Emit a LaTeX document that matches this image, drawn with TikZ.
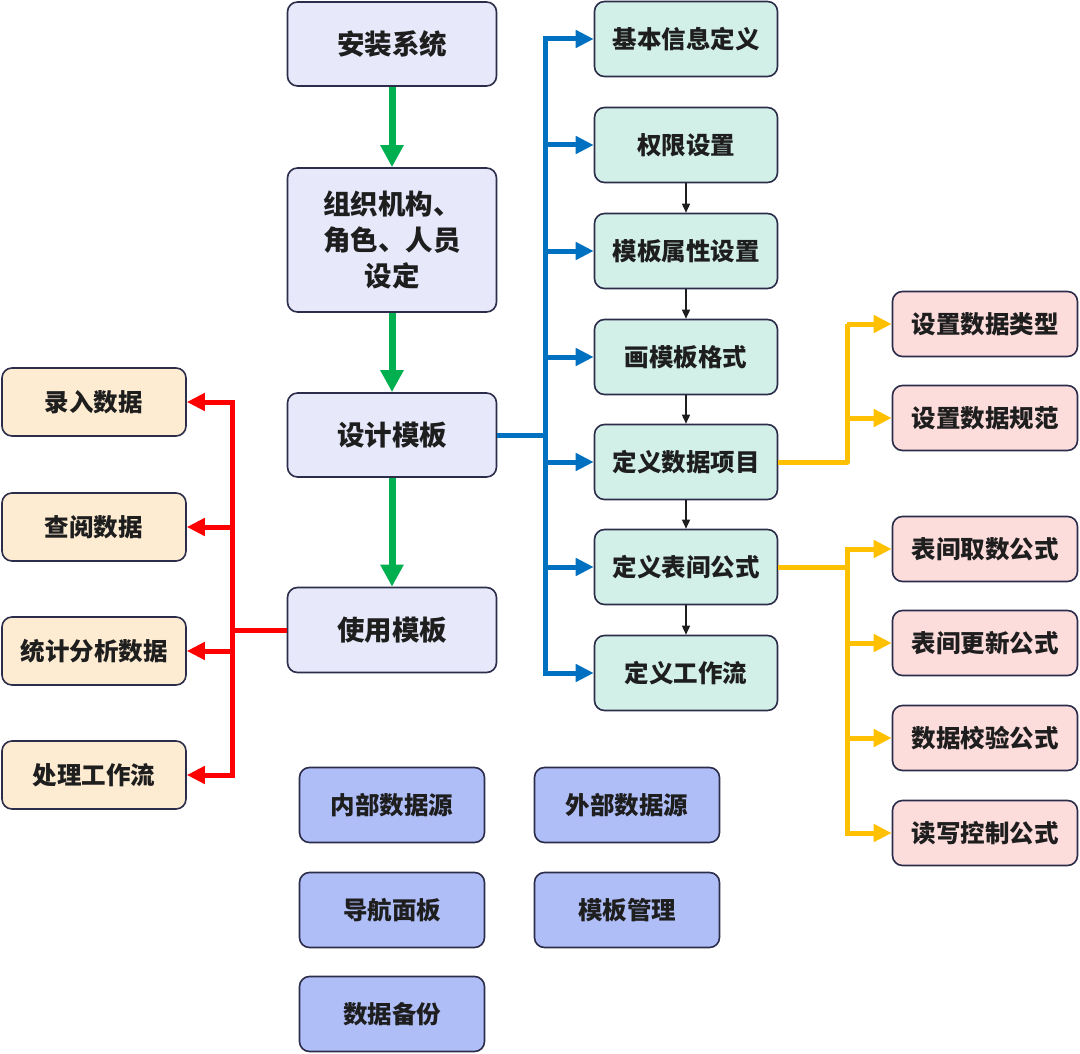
\documentclass[tikz,border=0pt]{standalone}
\usepackage{fontspec}
\newfontfamily\cjk{Noto Sans CJK SC}
\usetikzlibrary{arrows.meta}
\definecolor{bordc}{HTML}{2B2D4A}
\definecolor{mainf}{HTML}{E7E9FB}
\definecolor{tealf}{HTML}{D2F0E8}
\definecolor{pinkf}{HTML}{FDDCDC}
\definecolor{orgf}{HTML}{FDEBD2}
\definecolor{purf}{HTML}{B0BEF8}
\definecolor{greenc}{HTML}{00B050}
\definecolor{bluec}{HTML}{0070C0}
\definecolor{yelc}{HTML}{FFC000}
\definecolor{redc}{HTML}{FF0000}
\definecolor{txtc}{HTML}{1E1E1E}
\tikzset{
  box/.style={draw=bordc, line width=1.6pt, rounded corners=10pt, inner sep=0pt, text=txtc, align=center},
  mainbox/.style={box, fill=mainf, minimum width=209pt, font=\cjk\bfseries\fontsize{27.5}{36}\selectfont},
  tealbox/.style={box, fill=tealf, minimum width=183pt, minimum height=75pt, font=\cjk\bfseries\fontsize{24.5}{30}\selectfont},
  pinkbox/.style={box, fill=pinkf, minimum width=185pt, minimum height=65pt, font=\cjk\bfseries\fontsize{24.5}{30}\selectfont},
  orgbox/.style={box, fill=orgf, minimum width=184pt, minimum height=68pt, font=\cjk\bfseries\fontsize{24.5}{30}\selectfont},
  purbox/.style={box, fill=purf, minimum width=185pt, minimum height=75pt, font=\cjk\bfseries\fontsize{24.5}{30}\selectfont},
  greenarr/.style={draw=greenc, line width=7pt, -{Triangle[width=22pt,length=22pt]}},
  bluearr/.style={draw=bluec, line width=5pt, -{Triangle[width=17pt,length=18pt]}},
  blueline/.style={draw=bluec, line width=5pt},
  yelarr/.style={draw=yelc, line width=5pt, -{Triangle[width=17pt,length=18pt]}},
  yelline/.style={draw=yelc, line width=5pt, line join=round},
  redarr/.style={draw=redc, line width=5pt, -{Triangle[width=17pt,length=18pt]}},
  redline/.style={draw=redc, line width=5pt, line join=round},
  thinarr/.style={draw=txtc, line width=1.5pt, -{Triangle[width=8pt,length=9pt]}},
}
\begin{document}
\begin{tikzpicture}[x=1pt, y=-1pt]
\useasboundingbox (0,0) rectangle (1080,1054);
% main column
\node[mainbox, minimum height=84pt] (m1) at (392,44) {安装系统};
\node[mainbox, minimum height=144pt] (m2) at (392,240) {组织机构、\\角色、人员\\设定};
\node[mainbox, minimum height=84pt] (m3) at (392,435) {设计模板};
\node[mainbox, minimum height=85pt] (m4) at (392,630) {使用模板};
% teal column
\node[tealbox] (t1) at (686,39) {基本信息定义};
\node[tealbox] (t2) at (686,145) {权限设置};
\node[tealbox] (t3) at (686,251) {模板属性设置};
\node[tealbox] (t4) at (686,357) {画模板格式};
\node[tealbox] (t5) at (686,462) {定义数据项目};
\node[tealbox] (t6) at (686,567) {定义表间公式};
\node[tealbox] (t7) at (686,673) {定义工作流};
% pink column
\node[pinkbox] (p1) at (985,324) {设置数据类型};
\node[pinkbox] (p2) at (985,418) {设置数据规范};
\node[pinkbox] (p3) at (985,549) {表间取数公式};
\node[pinkbox] (p4) at (985,643) {表间更新公式};
\node[pinkbox] (p5) at (985,738) {数据校验公式};
\node[pinkbox] (p6) at (985,833) {读写控制公式};
% orange column
\node[orgbox] (o1) at (94,402) {录入数据};
\node[orgbox] (o2) at (94,527) {查阅数据};
\node[orgbox] (o3) at (94,651) {统计分析数据};
\node[orgbox] (o4) at (94,775) {处理工作流};
% purple boxes
\node[purbox] (q1) at (392,805) {内部数据源};
\node[purbox] (q2) at (627,805) {外部数据源};
\node[purbox] (q3) at (392,910) {导航面板};
\node[purbox] (q4) at (627,910) {模板管理};
\node[purbox] (q5) at (392,1014) {数据备份};
% green arrows
\draw[greenarr] (m1.south) -- (m2.north);
\draw[greenarr] (m2.south) -- (m3.north);
\draw[greenarr] (m3.south) -- (m4.north);
% blue connectors
\coordinate (bx) at (545,0);
\draw[blueline] (m3.east) -- ([xshift=2.5pt]bx |- m3.east);
\draw[blueline, line cap=rect] (bx |- t1.west) -- (bx |- t7.west);
\foreach \n in {t1,t2,t3,t4,t5,t6,t7} \draw[bluearr] (bx |- \n.west) -- (\n.west);
% thin black arrows
\draw[thinarr] (t2.south) -- (t3.north);
\draw[thinarr] (t3.south) -- (t4.north);
\draw[thinarr] (t4.south) -- (t5.north);
\draw[thinarr] (t5.south) -- (t6.north);
\draw[thinarr] (t6.south) -- (t7.north);
% yellow connectors
\coordinate (yx) at (847,0);
\draw[yelline] (t5.east) -- (yx |- t5.east) -- (yx |- p1.west);
\draw[yelarr] (yx |- p1.west) -- (p1.west);
\draw[yelarr] (yx |- p2.west) -- (p2.west);
\draw[yelline] (t6.east) -- (yx |- t6.east);
\draw[yelline, line cap=rect] (yx |- p3.west) -- (yx |- p6.west);
\foreach \n in {p3,p4,p5,p6} \draw[yelarr] (yx |- \n.west) -- (\n.west);
% red connectors
\coordinate (rx) at (232,0);
\draw[redline] (m4.west) -- (rx |- m4.west);
\draw[redline, line cap=rect] (rx |- o1.east) -- (rx |- o4.east);
\foreach \n in {o1,o2,o3,o4} \draw[redarr] (rx |- \n.east) -- (\n.east);
\end{tikzpicture}
\end{document}
